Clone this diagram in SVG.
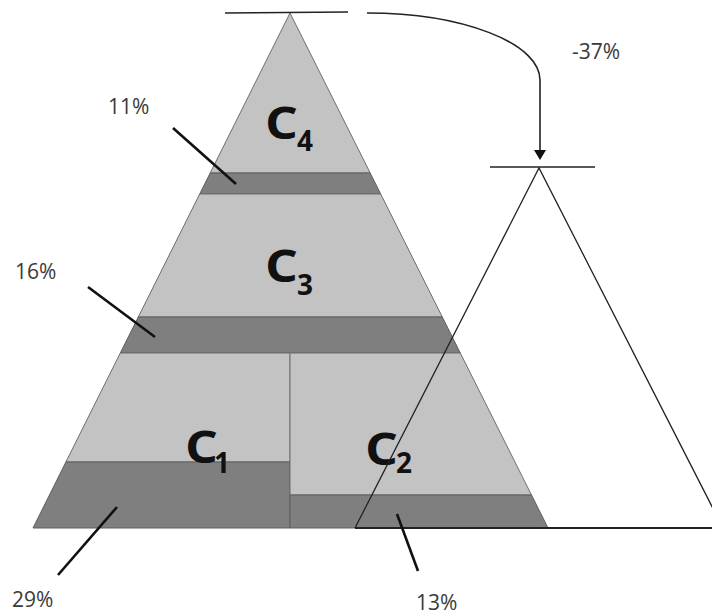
<svg xmlns="http://www.w3.org/2000/svg" width="712" height="615" viewBox="0 0 712 615">
<defs>
<style>
.light{fill:#c3c3c3;stroke:#6e6e6e;stroke-width:1}
.dark{fill:#7f7f7f;stroke:#5e5e5e;stroke-width:1}
.lbl{font-family:"Open Sans","Liberation Sans",sans-serif;font-size:21px;fill:#3a3a3a}
.cl{font-family:"Open Sans","Liberation Sans",sans-serif;font-weight:bold;fill:#111}
.cl .big{font-size:44px}
.cl .sub{font-size:28px}
.lead{stroke:#111;stroke-width:2.6;fill:none}
.tick{stroke:#222;stroke-width:1.6;fill:none}
</style>
</defs>
<rect width="712" height="615" fill="#fff"/>
<g id="C4">
<polygon class="light" points="290,13 370.2,173 210.2,173"/>
<polygon class="dark" points="210.2,173 370.2,173 380.7,194 199.7,194"/>
<text class="cl" x="265" y="139"><tspan class="big" textLength="33" lengthAdjust="spacingAndGlyphs">C</tspan><tspan class="sub" x="297" y="151">4</tspan></text>
</g>
<g id="C3">
<polygon class="light" points="199.7,194 380.7,194 442.3,317 138.3,317"/>
<polygon class="dark" points="138.3,317 442.3,317 460.3,353 120.3,353"/>
<text class="cl" x="265" y="282"><tspan class="big" textLength="33" lengthAdjust="spacingAndGlyphs">C</tspan><tspan class="sub" x="297" y="295">3</tspan></text>
</g>
<g id="C1">
<polygon class="light" points="120.3,353 290,353 290,462 65.9,462"/>
<polygon class="dark" points="65.9,462 290,462 290,528 33,528"/>
<text class="cl" x="185" y="463"><tspan class="big" textLength="33" lengthAdjust="spacingAndGlyphs">C</tspan><tspan class="sub" x="214" y="473">1</tspan></text>
</g>
<g id="C2">
<polygon class="light" points="290,353 460.3,353 531.5,495 290,495"/>
<polygon class="dark" points="290,495 531.5,495 548,528 290,528"/>
<text class="cl" x="365" y="465"><tspan class="big" textLength="33" lengthAdjust="spacingAndGlyphs">C</tspan><tspan class="sub" x="396" y="473">2</tspan></text>
</g>
<g id="ticks">
<line class="tick" x1="225" y1="13" x2="348" y2="12"/>
<line class="tick" x1="490" y1="167" x2="595" y2="167"/>
</g>
<g id="target">
<path d="M355,528 L539,168 L723,528" fill="none" stroke="#222" stroke-width="1.3"/>
<line x1="355" y1="528" x2="712" y2="528" stroke="#222" stroke-width="1.8"/>
</g>
<g id="connectors">
<path d="M367,13 A173,67 0 0 1 540,80 L540,151" fill="none" stroke="#222" stroke-width="1.6"/>
<polygon points="534,150 546,150 540,160" fill="#111"/>
<line class="lead" x1="173" y1="128" x2="236" y2="184"/>
<line class="lead" x1="88" y1="287" x2="155" y2="337"/>
<line class="lead" x1="117" y1="507" x2="58" y2="575"/>
<line class="lead" x1="397" y1="514" x2="418" y2="571"/>
</g>
<g id="labels">
<text class="lbl" x="572" y="59">-37%</text>
<text class="lbl" x="108" y="114">11%</text>
<text class="lbl" x="15" y="279">16%</text>
<text class="lbl" x="12" y="607">29%</text>
<text class="lbl" x="416" y="610">13%</text>
</g>
</svg>
